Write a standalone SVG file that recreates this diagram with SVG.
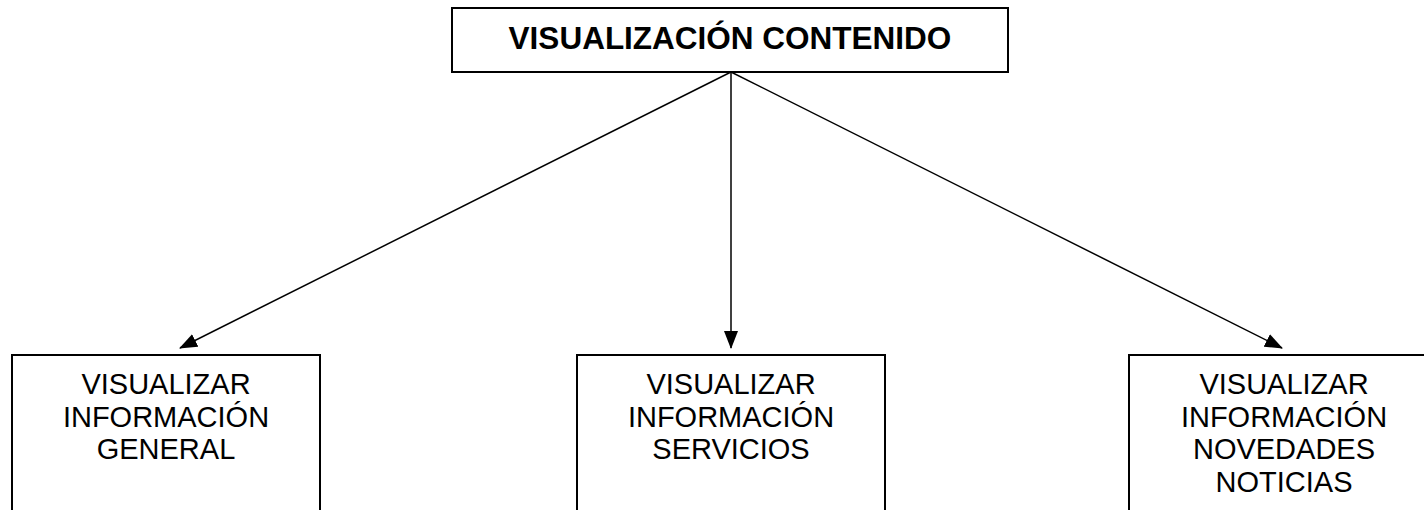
<svg xmlns="http://www.w3.org/2000/svg" width="1424" height="510" viewBox="0 0 1424 510">
<style>
.box{fill:#fff;stroke:#000;stroke-width:2}
.t{font-family:"Liberation Sans",Arial,sans-serif;font-size:29px;text-anchor:middle;fill:#000}
.tb{font-family:"Liberation Sans",Arial,sans-serif;font-size:31.5px;font-weight:bold;text-anchor:middle;fill:#000}
.c{stroke:#000;stroke-width:1.5;fill:none;marker-end:url(#ah)}
</style>
<defs>
<marker id="ah" markerUnits="userSpaceOnUse" markerWidth="18" markerHeight="14" refX="17" refY="7" orient="auto" viewBox="0 0 18 14">
<path d="M0,0 L18,7 L0,14 Z" fill="#000"/>
</marker>
</defs>
<rect width="1424" height="510" fill="#fff"/>
<g id="connectors">
<line class="c" x1="731" y1="72" x2="180" y2="348"/>
<line class="c" x1="731" y1="72" x2="731" y2="348"/>
<line class="c" x1="731" y1="72" x2="1282" y2="348"/>
</g>
<g id="root">
<rect class="box" x="452" y="8" width="556" height="64"/>
<text class="tb" x="730" y="49">VISUALIZACIÓN CONTENIDO</text>
</g>
<g id="general">
<rect class="box" x="12" y="355" width="308" height="170"/>
<text class="t" x="166" y="394">VISUALIZAR</text>
<text class="t" x="166" y="426.5">INFORMACIÓN</text>
<text class="t" x="166" y="459">GENERAL</text>
</g>
<g id="servicios">
<rect class="box" x="577" y="355" width="308" height="170"/>
<text class="t" x="731" y="393.5">VISUALIZAR</text>
<text class="t" x="731" y="426.5">INFORMACIÓN</text>
<text class="t" x="731" y="459">SERVICIOS</text>
</g>
<g id="novedades">
<rect class="box" x="1129" y="355" width="320" height="170"/>
<text class="t" x="1284" y="393.5">VISUALIZAR</text>
<text class="t" x="1284" y="426.5">INFORMACIÓN</text>
<text class="t" x="1284" y="459">NOVEDADES</text>
<text class="t" x="1284" y="491.5">NOTICIAS</text>
</g>
</svg>
